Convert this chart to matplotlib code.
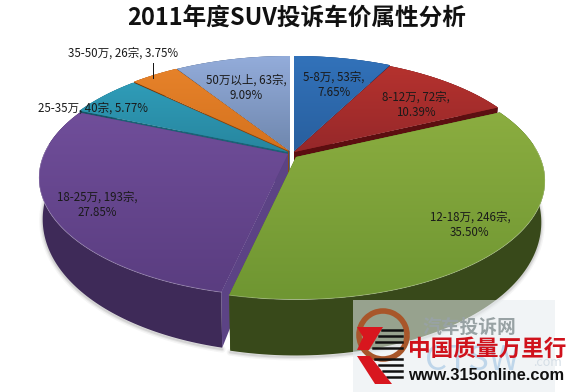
import numpy as np
import matplotlib
matplotlib.use('Agg')
import matplotlib.pyplot as plt
from matplotlib.patches import Polygon, Arc
from matplotlib.colors import to_rgb

plt.rcParams['font.family'] = ['Noto Sans CJK SC', 'DejaVu Sans']

title = '2011年度SUV投诉车价属性分析'
categories = ['5-8万', '8-12万', '12-18万', '18-25万', '25-35万', '35-50万', '50万以上']
counts = [53, 72, 246, 193, 40, 26, 63]
percents = ['7.65%', '10.39%', '35.50%', '27.85%', '5.77%', '3.75%', '9.09%']
top_light = ['#3272BA', '#B5322E', '#8BAD40', '#704E9A', '#2F9CB8', '#E6822A', '#93ACDA']
top_dark = ['#285F9E', '#96282A', '#6F9632', '#5A3D80', '#27869F', '#D5721E', '#6F87AE']
side_col = ['#1C3F70', '#5C1012', '#38491A', '#3E2A58', '#175566', '#7A4010', '#46597A']
wall_col = ['#20487E', '#5C0E10', '#44561E', '#5C4385', '#1B6276', '#8A4A14', '#50658A']
label_xy = [(334, 85), (416, 105), (470, 225), (97, 205), (93, 108), (123, 53), (246, 88)]
label_breaks = [True, True, True, True, False, False, True]
offsets = [(3, -2), (3, -1), (5, 4), (-3, 1), (-3, -1), (-2, -2), (-1, -2)]

CX, CY, R, RY, K = 291, 153, 244, 114, 0.2

fig = plt.figure(figsize=(5.78, 3.92), dpi=100)
ax = fig.add_axes([0, 0, 1, 1])
ax.set_xlim(0, 578)
ax.set_ylim(392, 0)
ax.axis('off')


def project(t, ox=0.0, oy=0.0):
    u, v = np.sin(t), np.cos(t)
    s = 1 / (1 + K * v)
    return CX + ox + R * u * s, CY + oy - RY * v * s


def depth(t):
    return 38 - 18 * np.cos(t)


def grad_poly(pts, c1, c2, z):
    poly = Polygon(pts, closed=True, fc=c2, ec='none', zorder=z)
    ax.add_patch(poly)
    x0, y0 = pts.min(0)
    x1, y1 = pts.max(0)
    ramp = np.linspace(0, 1, 64)[:, None, None]
    img = (1 - ramp) * np.array(to_rgb(c1))[None, None, :] + ramp * np.array(to_rgb(c2))[None, None, :]
    im = ax.imshow(img, extent=[x0, x1, y1, y0], aspect='auto', zorder=z, interpolation='bilinear')
    im.set_clip_path(poly)


fr = np.array(counts, float) / sum(counts)
edges = np.concatenate([[0], np.cumsum(fr)]) * 2 * np.pi
slices = []
for i in range(len(counts)):
    a0, a1 = edges[i], edges[i + 1]
    mid = (a0 + a1) / 2
    slices.append((np.cos(mid), i, a0, a1, offsets[i][0], offsets[i][1]))
slices.sort(key=lambda s: -s[0])

z = 3
for _, i, a0, a1, ox, oy in slices:
    t = np.linspace(a0, a1, 100)
    x, y = project(t, ox, oy)
    cx, cy = CX + ox, CY + oy
    d = depth(t)
    xb = cx + (x - cx) * 0.985
    # soft shadow under the lower rim
    front = np.cos(t) < 0.1
    if front.any():
        for lw, al in ((5, 0.05), (3, 0.08), (1.5, 0.12)):
            ax.plot(xb[front], (y + d)[front] + 1.5, color='#444444', lw=lw, alpha=al, zorder=1,
                    solid_capstyle='round')
    # radial walls
    for a in (a0, a1):
        ex, ey = project(a, ox, oy)
        dd = depth(a)
        ebx = cx + (ex - cx) * 0.985
        wall = np.array([[cx, cy], [ex, ey], [ebx, ey + dd], [cx, cy + 30]])
        ax.add_patch(Polygon(wall, fc=wall_col[i], ec='none', zorder=z))
    # outer wall
    outer = np.column_stack([np.r_[x, xb[::-1]], np.r_[y, (y + d)[::-1]]])
    ax.add_patch(Polygon(outer, fc=side_col[i], ec='none', zorder=z + 0.1))
    # top face
    top = np.vstack([[cx, cy], np.column_stack([x, y])])
    grad_poly(top, top_light[i], top_dark[i], z + 0.2)
    if front.any():
        ax.plot(x[front], y[front], color='#FFFFFF', lw=0.6, alpha=0.3, zorder=z + 0.3)
    z += 1

for i, (cat, c, p) in enumerate(zip(categories, counts, percents)):
    sep = ',\n' if label_breaks[i] else ', '
    ax.text(*label_xy[i], f'{cat}, {c}宗{sep}{p}', fontsize=8.3, color='#1a1a1a', ha='center',
            va='center', linespacing=1.2, zorder=50)

ax.plot([153, 153], [63, 78], color='#111111', lw=0.7, zorder=50)
ax.text(297, 18, title, fontsize=17, fontweight='bold', color='#111111', ha='center', va='center', zorder=50)

# watermark
ax.add_patch(Polygon([[353, 300], [555, 300], [555, 392], [353, 392]], fc='#E6ECEF', alpha=0.55, ec='none', zorder=40))
ax.text(469, 327, '汽车投诉网', fontsize=13.5, color='#98A2A4', fontweight='bold', ha='center', va='center', zorder=41)
ax.text(472, 361, 'CTSW', fontsize=25, color='#BFD6EA', ha='center', va='center', zorder=41)
ax.text(548, 363, '.com', fontsize=9, color='#D5DEE6', ha='center', va='center', zorder=41)
ax.add_patch(Arc((383, 335), 48, 48, theta1=0, theta2=360, ec='#A8562A', lw=4, zorder=42))
for yy, dx in zip((330, 336, 342, 348, 359, 365, 371, 377), (0, -3, -6, -9, -7, -3, 1, 5)):
    ax.plot([382 + dx, 402], [yy, yy], color='#111111', lw=1.8, zorder=43)
ax.add_patch(Polygon([[357, 327], [383, 327], [369, 350], [357, 350], [363, 337]], fc='#D8161E', ec='none', zorder=44))
ax.add_patch(Polygon([[357, 356], [370, 356], [392, 384], [375, 384]], fc='#D8161E', ec='none', zorder=44))
ax.text(487, 349, '中国质量万里行', fontsize=16.3, color='#D0121C', fontweight='bold', ha='center', va='center', zorder=45)
ax.text(486, 375, 'www.315online.com', fontsize=11.8, color='#111111', fontweight='bold', ha='center', va='center',
        family=['Liberation Sans', 'DejaVu Sans'], zorder=45)

fig.savefig('out.png', dpi=100)
